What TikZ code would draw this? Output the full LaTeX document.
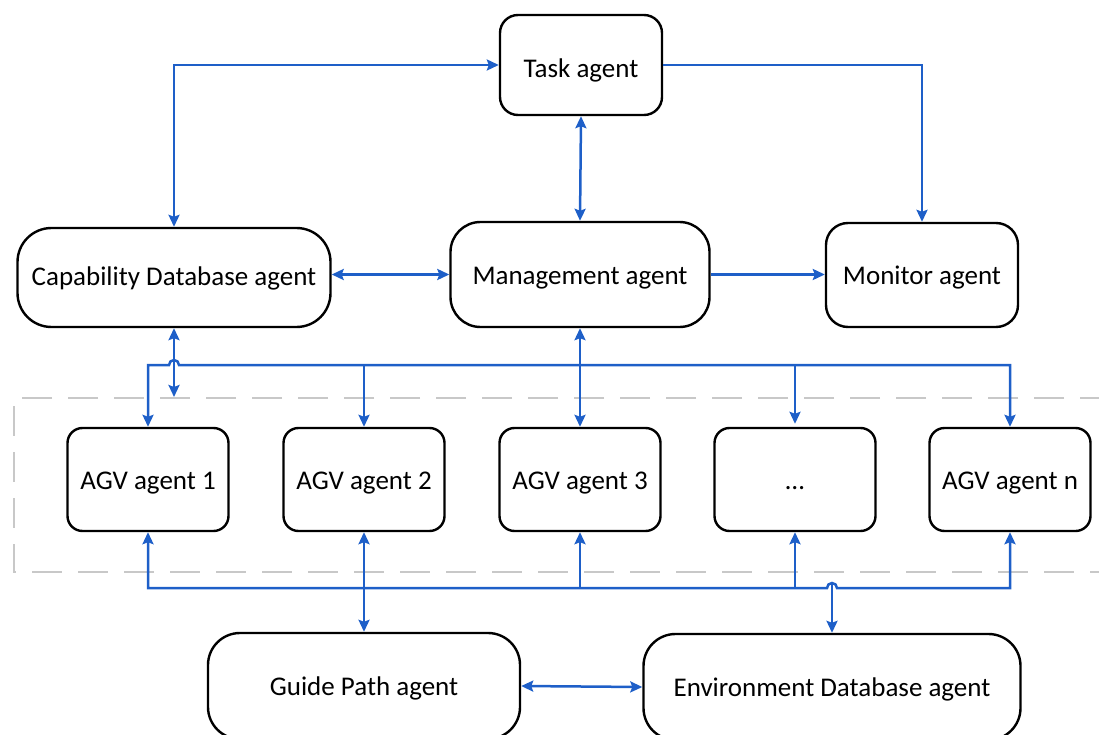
\documentclass[tikz,border=0pt]{standalone}
\usepackage{fontspec}
\setmainfont{Carlito}
\usetikzlibrary{arrows.meta}
\definecolor{linkblue}{RGB}{30,95,200}
\definecolor{groupgray}{RGB}{200,200,200}
\tikzset{
  agent/.style={draw=black, line width=2.4pt, align=center, inner sep=0pt,
    text height=24pt, text depth=5pt,
    font=\fontsize{27}{31}\selectfont},
  link/.style={draw=linkblue, line width=2.5pt,
    arrows={-}, >={Stealth[length=12pt,width=11pt,inset=2pt]}},
  group/.style={draw=groupgray, line width=2.5pt, dash pattern=on 30pt off 16pt}
}
\begin{document}
\begin{tikzpicture}[x=1pt,y=-1pt]
\useasboundingbox (0,0) rectangle (1099,735);
\clip (0,0) rectangle (1099,735);

% group frame around the AGV agents (open on the right)
\draw[group] (1110,398) -- (14,398) -- (14,572) -- (1110,572);

% agents
\node[agent, rounded corners=18pt, minimum width=162pt, minimum height=100pt, text height=30pt] (task) at (581,65) {Task agent};
\node[agent, rounded corners=34pt, minimum width=313pt, minimum height=99pt, text height=21pt] (cap) at (174,277.5) {Capability Database agent};
\node[agent, rounded corners=30pt, minimum width=259pt, minimum height=105pt] (mgmt) at (580,274.5) {Management agent};
\node[agent, rounded corners=22pt, minimum width=192pt, minimum height=104pt] (mon) at (922,275) {Monitor agent};

\node[agent, rounded corners=15pt, minimum width=161pt, minimum height=103pt] (agv1) at (148,479.5) {AGV agent 1};
\node[agent, rounded corners=15pt, minimum width=161pt, minimum height=103pt] (agv2) at (364,479.5) {AGV agent 2};
\node[agent, rounded corners=15pt, minimum width=161pt, minimum height=103pt] (agv3) at (580,479.5) {AGV agent 3};
\node[agent, rounded corners=15pt, minimum width=161pt, minimum height=103pt] (agvdots) at (795,479.5) {…};
\node[agent, rounded corners=15pt, minimum width=161pt, minimum height=103pt] (agvn) at (1010,479.5) {AGV agent n};

\node[agent, rounded corners=32pt, minimum width=312pt, minimum height=106pt] (guide) at (364,686) {Guide Path agent};
\node[agent, rounded corners=32pt, minimum width=377pt, minimum height=106pt] (env) at (832,687) {Environment Database agent};

% bus levels and free end
\coordinate (bt) at (0,365);
\coordinate (bb) at (0,588);
\coordinate (capdn) at (174,397);

% upper links
\draw[link,<->] (cap.north) |- (task.west);
\draw[link,->] (task.east) -| (mon.north);
\draw[link,<->] (task.south) -- (mgmt.north);
\draw[link,<->] (mgmt.west -| cap.east) -- (mgmt.west);
\draw[link,->] (mgmt.east) -- (mgmt.east -| mon.west);

% management to AGV agents
\draw[link,<->] (mgmt.south) -- (agv3.north);
\draw[link,<->] (cap.south) -- (capdn);
\draw[link,<->] (agv1.north) -- (agv1.north |- bt)
  -- ([xshift=-5pt]cap.south |- bt) arc[start angle=180,end angle=0,radius=5pt]
  -- (agvn.north |- bt) -- (agvn.north);
\draw[link,->] (agv2.north |- bt) -- (agv2.north);
\draw[link,->] (agvdots.north |- bt) -- ([yshift=3pt]agvdots.north);

% lower bus
\draw[link,<->] (agv1.south) -- (agv1.south |- bb)
  -- ([xshift=-5pt]env.north |- bb) arc[start angle=180,end angle=0,radius=5pt]
  -- (agvn.south |- bb) -- (agvn.south);
\draw[link,<->] (agv2.south) -- (guide.north);
\draw[link,->] (agv3.south |- bb) -- (agv3.south);
\draw[link,->] (agvdots.south |- bb) -- (agvdots.south);
\draw[link,->] ([yshift=5pt]env.north |- bb) -- (env.north);
\draw[link,<->] (guide.east) -- (env.west);
\end{tikzpicture}
\end{document}
